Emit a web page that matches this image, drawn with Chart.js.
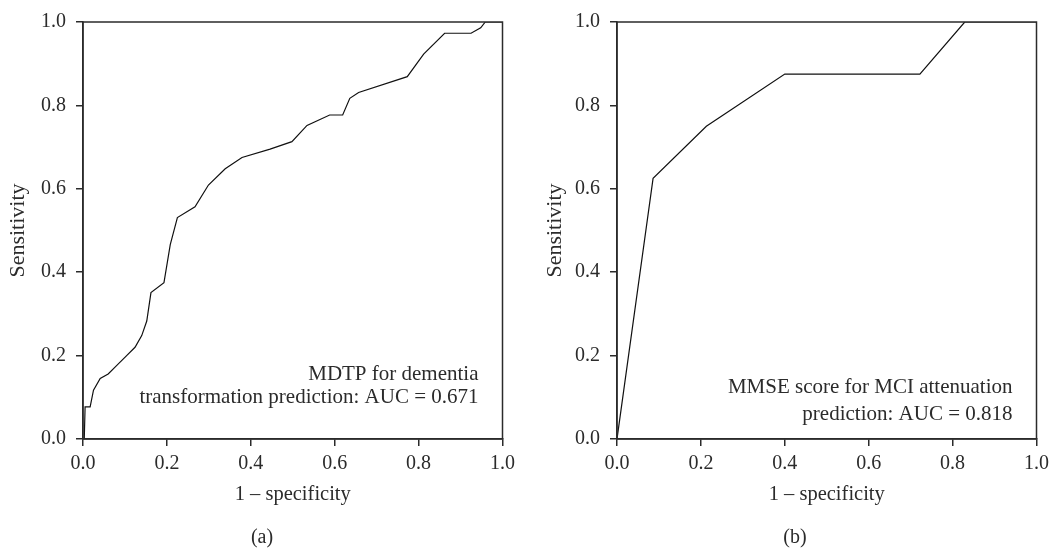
<!DOCTYPE html>
<html>
<head>
<meta charset="utf-8">
<script src="https://cdn.jsdelivr.net/npm/chart.js@4.4.1/dist/chart.umd.min.js"></script>
<style>
  body { margin: 0; background: #fff; width: 1052px; height: 548px; position: relative; overflow: hidden;
         font-family: "Liberation Serif", serif; color: #2b2b2b; }
  canvas { position: absolute; top: 0; }
  #rocA { left: 0; }
  #rocB { left: 534px; }
  .panel { position: absolute; top: 524px; font-size: 20px; line-height: 24px; transform: translateX(-50%); }
</style>
</head>
<body>
<canvas id="rocA" width="521" height="548"></canvas>
<canvas id="rocB" width="521" height="548"></canvas>
<div class="panel" style="left:262px">(a)</div>
<div class="panel" style="left:795px">(b)</div>
<script>
// (a) MDTP for dementia transformation
var mdtpFpr = [0.003, 0.005, 0.017, 0.025, 0.041, 0.06, 0.08, 0.104, 0.124, 0.14, 0.152, 0.162, 0.193, 0.208, 0.225, 0.267,
               0.299, 0.339, 0.379, 0.446, 0.498, 0.534, 0.588, 0.619, 0.636, 0.657, 0.773, 0.812, 0.862, 0.925, 0.948, 0.959, 1.0];
var mdtpTpr = [0, 0.077, 0.077, 0.117, 0.145, 0.156, 0.176, 0.2, 0.22, 0.248, 0.283, 0.351, 0.375, 0.466, 0.531, 0.557,
               0.609, 0.648, 0.675, 0.695, 0.713, 0.752, 0.777, 0.777, 0.817, 0.831, 0.869, 0.923, 0.973, 0.973, 0.986, 1.0, 1.0];
var mdtpNote = ["MDTP for dementia", "transformation prediction: AUC = 0.671"];

// (b) MMSE score for MCI attenuation
var mmseFpr = [0, 0.086, 0.213, 0.4, 0.722, 0.829, 1.0];
var mmseTpr = [0, 0.625, 0.75, 0.875, 0.875, 1.0, 1.0];
var mmseNote = ["MMSE score for MCI attenuation", "prediction: AUC = 0.818"];

var tickVals = [0, 0.2, 0.4, 0.6, 0.8, 1.0];

var ink = '#2b2b2b';
Chart.defaults.font.family = '"Liberation Serif", serif';
Chart.defaults.font.size = 20;
Chart.defaults.color = ink;

// box around the plot + the note in the lower right corner
var framePlugin = {
  id: 'frame',
  afterDraw: function(chart, args, opts) {
    var a = chart.chartArea, ctx = chart.ctx;
    ctx.save();
    ctx.strokeStyle = ink;
    ctx.lineWidth = 1.5;
    ctx.strokeRect(a.left, a.top, a.right - a.left, a.bottom - a.top);
    ctx.fillStyle = ink;
    ctx.font = '21px "Liberation Serif", serif';
    ctx.textAlign = 'right';
    ctx.textBaseline = 'middle';
    opts.lines.forEach(function(t, i) {
      ctx.fillText(t, a.right - 24, a.bottom - opts.bottom + i * opts.gap);
    });
    ctx.restore();
  }
};

function makeRoc(id, xs, ys, note, noteBottom, noteGap, yPad) {
  var pts = xs.map(function(x, i) { return {x: x, y: ys[i]}; });
  var axisGrid = { display: true, drawOnChartArea: false, drawTicks: true, tickLength: 7, color: ink, lineWidth: 1.5 };
  var axisBorder = { display: true, color: ink, width: 1.5 };
  return new Chart(document.getElementById(id), {
    type: 'line',
    data: {
      datasets: [{
        data: pts,
        borderColor: '#111',
        borderWidth: 1.2,
        pointRadius: 0,
        tension: 0,
        fill: false
      }]
    },
    options: {
      responsive: false,
      animation: false,
      layout: { padding: { top: 19, right: 0, bottom: 0, left: 0 } },
      plugins: {
        legend: { display: false },
        tooltip: { enabled: false },
        frame: { lines: note, bottom: noteBottom, gap: noteGap }
      },
      scales: {
        x: {
          type: 'linear', min: 0, max: 1,
          afterBuildTicks: function(s) { s.ticks = tickVals.map(function(v) { return {value: v}; }); },
          afterFit: function(s) { s.height = 109; },
          ticks: { padding: 6, maxRotation: 0, callback: function(v) { return v.toFixed(1); } },
          grid: axisGrid, border: axisBorder,
          title: { display: true, text: '1 \u2013 specificity', font: { size: 20.5 }, padding: { top: 0, bottom: 41 } }
        },
        y: {
          type: 'linear', min: 0, max: 1,
          afterBuildTicks: function(s) { s.ticks = tickVals.map(function(v) { return {value: v}; }); },
          afterFit: function(s) { s.width = 83; },
          ticks: { padding: 10, callback: function(v) { return v.toFixed(1); } },
          grid: axisGrid, border: axisBorder,
          title: { display: true, text: 'Sensitivity', font: { size: 22 }, padding: { top: yPad, bottom: 0 } }
        }
      }
    },
    plugins: [framePlugin]
  });
}

makeRoc('rocA', mdtpFpr, mdtpTpr, mdtpNote, 65, 23.5, 5);
makeRoc('rocB', mmseFpr, mmseTpr, mmseNote, 52, 27, 8);
</script>
</body>
</html>
